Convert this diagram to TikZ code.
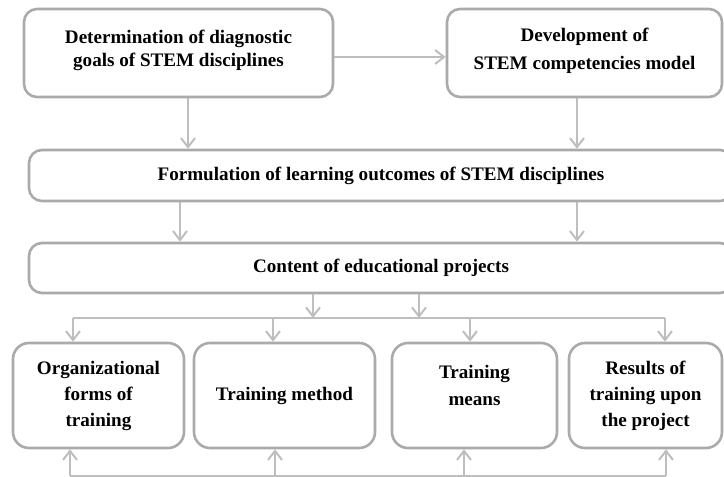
\documentclass[tikz,border=0pt]{standalone}
\usepackage{fontspec}
\setmainfont{Liberation Serif}
\usetikzlibrary{arrows.meta}
\definecolor{boxgray}{RGB}{170,170,170}
\definecolor{arrgray}{RGB}{190,190,190}
\tikzset{
  box/.style={draw=boxgray, line width=2.6pt, rounded corners=13pt, align=center,
    inner sep=0pt, font=\fontsize{19.1}{26}\selectfont\bfseries},
  arr/.style={draw=arrgray, line width=2pt, -{Straight Barb[length=9pt,width=14pt]}},
  bus/.style={draw=arrgray, line width=2pt}
}
\begin{document}
\begin{tikzpicture}[x=1pt,y=-1pt]
      \useasboundingbox (0,0) rectangle (724,477);
      \clip (0,0) rectangle (724,477);

      \node[box, minimum width=309, minimum height=88](goals) at (178.5, 53.0){Determination of diagnostic\\[-3pt]goals of STEM disciplines\\[-17pt]\mbox{}};
      \node[box, minimum width=275, minimum height=88](model) at (584.5, 53.0){Development of\\[2pt]STEM competencies model\\[-18pt]\mbox{}};
      \node[box, minimum width=704, minimum height=51](outcomes) at (381.0,175.5){Formulation of learning outcomes of STEM disciplines};
      \node[box, minimum width=704, minimum height=50](content) at (381.0,268.0){Content of educational projects};

      \node[box, rounded corners=16pt, minimum width=171, minimum height=105](org) at ( 98.5,395.5){Organizational\\forms of\\training};
      \node[box, rounded corners=16pt, minimum width=181, minimum height=105](method) at (284.5,395.5){Training method};
      \node[box, rounded corners=16pt, minimum width=165, minimum height=105](means) at (474.5,395.5){Training\\[1pt]means\\[-6pt]\mbox{}};
      \node[box, rounded corners=16pt, minimum width=153, minimum height=105](results) at (645.5,395.5){Results of\\training upon\\the project};

      \coordinate (topbusL) at (73,318);
      \coordinate (topbusR) at (665,318);
      \coordinate (botbusL) at (70,476);
      \coordinate (botbusR) at (666,476);

      \draw[arr] ([yshift=-4pt]goals.east) -- ([yshift=-4pt]model.west);
      \draw[arr] (goals.south -| 188,0) -- (outcomes.north -| 188,0);
      \draw[arr] (model.south -| 577,0) -- (outcomes.north -| 577,0);
      \draw[arr] (outcomes.south -| 180,0) -- (content.north -| 180,0);
      \draw[arr] (outcomes.south -| 577,0) -- (content.north -| 577,0);

      \draw[arr] (content.south -| 313,0) -- (topbusL -| 313,0);
      \draw[arr] (content.south -| 419,0) -- (topbusL -| 419,0);
      \draw[bus] (topbusL) -- (topbusR);
      \draw[arr] (topbusL) -- (org.north -| topbusL);
      \draw[arr] (topbusL -| 273,0) -- (method.north -| 273,0);
      \draw[arr] (topbusL -| 470,0) -- (means.north -| 470,0);
      \draw[arr] (topbusR) -- (results.north -| topbusR);

      \draw[bus] (botbusL) -- (botbusR);
      \draw[arr] (botbusL) -- (org.south -| botbusL);
      \draw[arr] (botbusL -| 275,0) -- (method.south -| 275,0);
      \draw[arr] (botbusL -| 464,0) -- (means.south -| 464,0);
      \draw[arr] (botbusR) -- (results.south -| botbusR);
\end{tikzpicture}
\end{document}
